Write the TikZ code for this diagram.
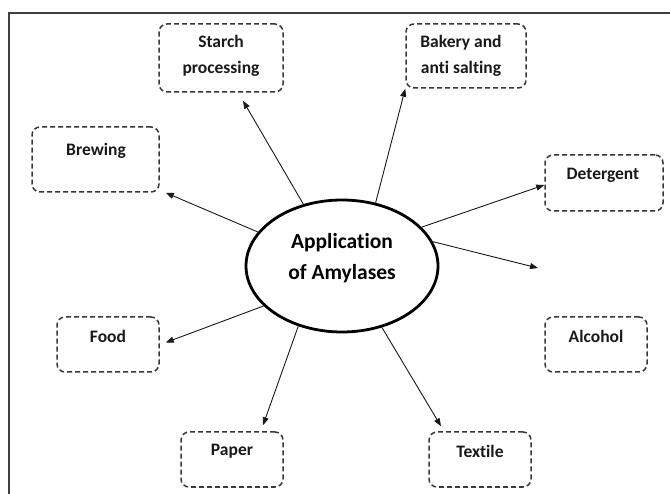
\documentclass[tikz,border=0pt]{standalone}
\usepackage{fontspec}
\setmainfont[Ligatures={NoCommon}]{Carlito}
\usetikzlibrary{arrows.meta,calc,shapes.geometric}
\definecolor{boxgray}{HTML}{383838}
\definecolor{framegray}{HTML}{404040}
\tikzset{
  appbox/.style={draw=boxgray, line width=1.5pt, dash pattern=on 5pt off 3pt,
    rounded corners=8pt, minimum width=#1, inner sep=0pt},
  boxlabel/.style={font=\fontsize{17.5}{26}\selectfont\bfseries, align=center, inner sep=0pt, text=black!90},
  conn/.style={draw=black!90, line width=0.9pt, -{Triangle[length=8pt,width=6pt]}},
}
\begin{document}
\begin{tikzpicture}[x=1pt,y=-1pt]
\useasboundingbox (0,0) rectangle (670,494);
% frame (top and left only)
\coordinate (ftl) at (9,13);
\coordinate (ftr) at (670,13);
\coordinate (fbl) at (9,494);
\draw[framegray, line width=1.5pt] (ftr) -- (ftl) -- (fbl);

% central ellipse
\node[draw=black, line width=2.8pt, ellipse, minimum width=192pt, minimum height=132pt, inner sep=0pt] (ell) at (342,266) {};
\node[font=\fontsize{21.5}{31}\selectfont\bfseries, align=center, inner sep=0pt] (title) at (342,258) {Application\\of Amylases};

% boxes
\node[appbox=124pt, minimum height=68pt] (starch) at (221,58) {};
\node[boxlabel] (starchT) at (221,56) {Starch\\processing};
\node[appbox=120pt, minimum height=64pt] (bakery) at (466,56) {};
\node[boxlabel] (bakeryT) at (461,56) {Bakery and\\anti salting};
\node[appbox=127pt, minimum height=65pt] (brewing) at (95.5,159.5) {};
\node[boxlabel] (brewingT) at (96,151) {Brewing};
\node[appbox=118pt, minimum height=56pt] (detergent) at (604,183) {};
\node[boxlabel] (detergentT) at (603,175) {Detergent};
\node[appbox=102pt, minimum height=55pt] (alcohol) at (596,344.5) {};
\node[boxlabel] (alcoholT) at (596,336) {Alcohol};
\node[appbox=102pt, minimum height=55pt] (food) at (108,344.5) {};
\node[boxlabel] (foodT) at (108,336) {Food};
\node[appbox=102pt, minimum height=55pt] (paper) at (232,459.5) {};
\node[boxlabel] (paperT) at (232,451) {Paper};
\node[appbox=102pt, minimum height=55pt] (textile) at (480,459.5) {};
\node[boxlabel] (textileT) at (480,451) {Textile};

% free end of the alcohol arrow
\coordinate (alcEnd) at (538,268);

% connectors
\draw[conn] (ell.122) -- ($(starch.south)+(22,8)$);
\draw[conn] (ell.62) -- (bakery.south west);
\draw[conn] (ell.158) -- ($(brewing.south east)+(6,0)$);
\draw[conn] (ell.26) -- ($(detergent.west)+(0,2)$);
\draw[conn] (ell.15) -- (alcEnd);
\draw[conn] (ell.207) -- ($(food.east)+(6,-2)$);
\draw[conn] (ell.234) -- ($(paper.north)+(31,-6)$);
\draw[conn] (ell.303) -- ($(textile.north)+(-39,-5)$);
\end{tikzpicture}
\end{document}
